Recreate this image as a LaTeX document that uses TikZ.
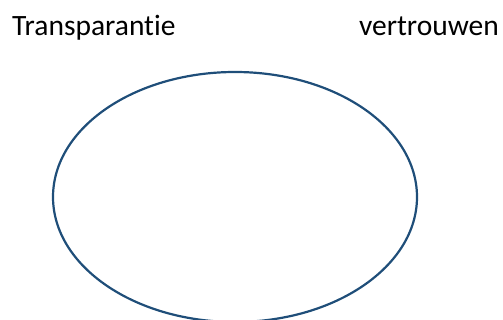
\documentclass[tikz,border=0pt]{standalone}
\usepackage{fontspec}
\setmainfont{Carlito}[Ligatures={NoCommon}]
\begin{document}
\begin{tikzpicture}[x=1pt,y=1pt,
  label text/.style={inner sep=0pt, font=\fontsize{29.5}{34}\selectfont, text=black},
  loop ring/.style={draw=ring, line width=2.2pt}]
\definecolor{ring}{HTML}{1F4E79}
\useasboundingbox (0,0) rectangle (503,-320);
\node[label text, anchor=base west] (transp) at (12,-36) {Transparantie};
\node[label text, anchor=base east] (trust) at (499,-36) {vertrouwen};
\draw[loop ring] (235,-197) ellipse [x radius=182, y radius=125];
\end{tikzpicture}
\end{document}
